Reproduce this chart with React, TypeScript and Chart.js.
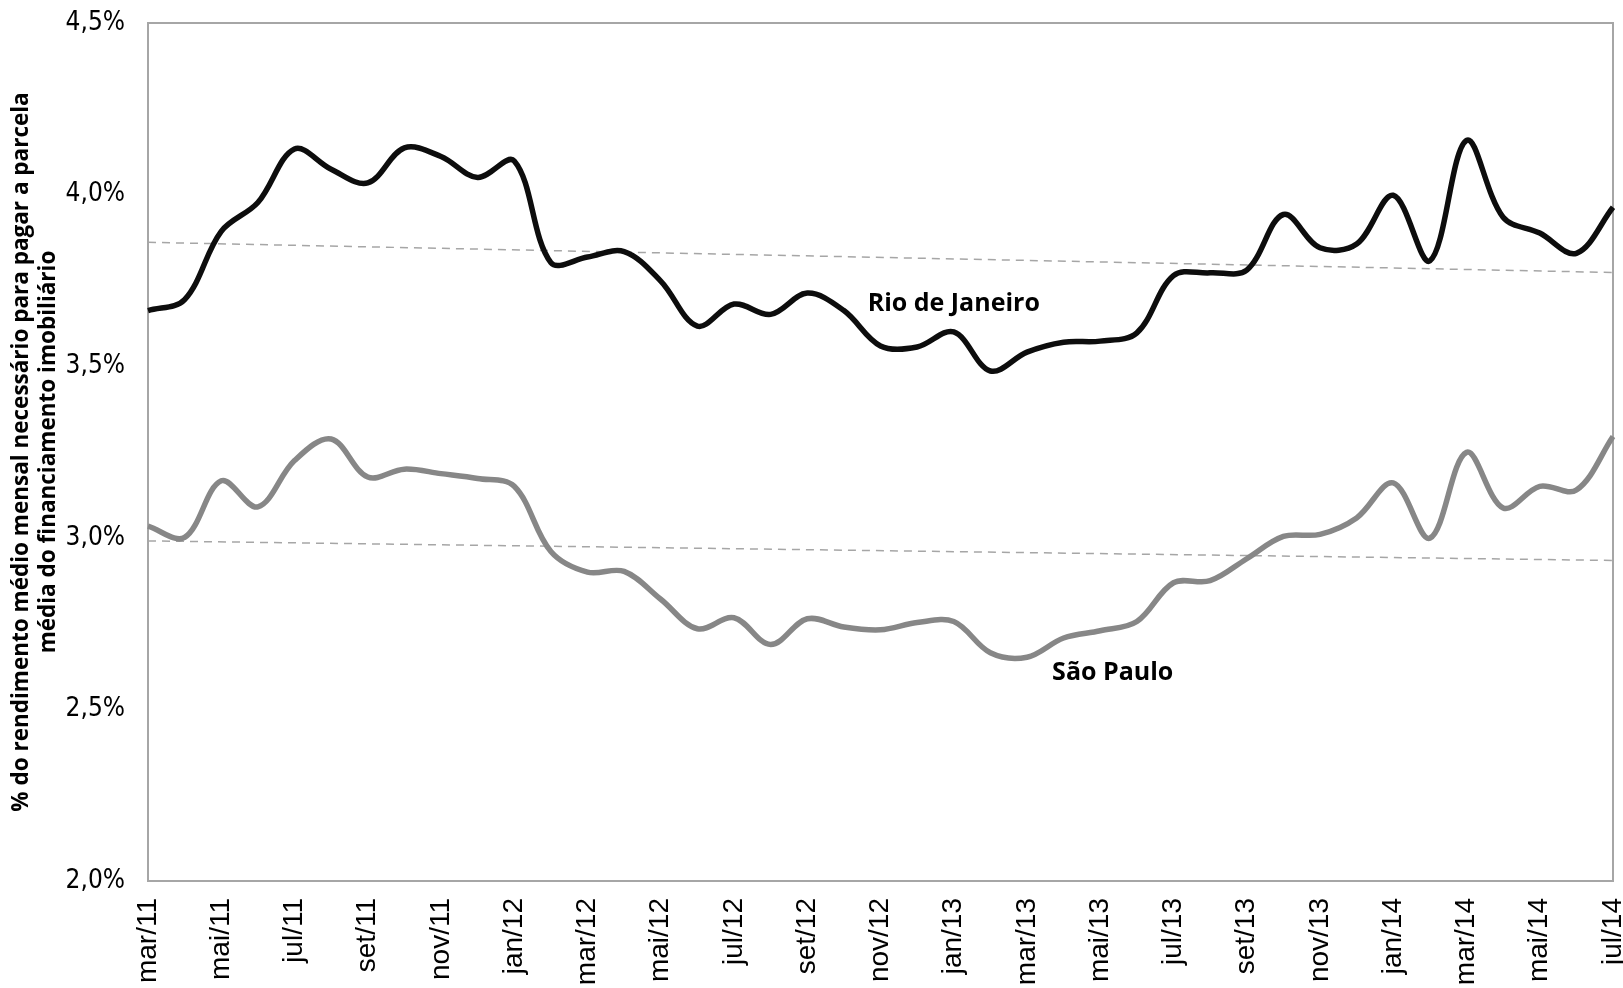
import React, { useEffect, useRef } from "react";
import { Chart, registerables } from "chart.js";

Chart.register(...registerables);

// Monthly categories, March 2011 to July 2014
const MONTHS = [
  "mar/11", "abr/11", "mai/11", "jun/11", "jul/11", "ago/11", "set/11", "out/11", "nov/11", "dez/11",
  "jan/12", "fev/12", "mar/12", "abr/12", "mai/12", "jun/12", "jul/12", "ago/12", "set/12", "out/12", "nov/12", "dez/12",
  "jan/13", "fev/13", "mar/13", "abr/13", "mai/13", "jun/13", "jul/13", "ago/13", "set/13", "out/13", "nov/13", "dez/13",
  "jan/14", "fev/14", "mar/14", "abr/14", "mai/14", "jun/14", "jul/14",
];

// % of average monthly income needed for the average mortgage instalment
const RIO = [
  3.662, 3.694, 3.893, 3.977, 4.133, 4.074, 4.034, 4.136, 4.111, 4.050,
  4.098, 3.802, 3.818, 3.834, 3.748, 3.617, 3.681, 3.651, 3.713, 3.662, 3.559, 3.556,
  3.600, 3.486, 3.541, 3.570, 3.573, 3.597, 3.764, 3.772, 3.780, 3.942, 3.845, 3.856,
  3.998, 3.807, 4.158, 3.934, 3.888, 3.829, 3.963,
];

const SAO_PAULO = [
  3.034, 3.001, 3.166, 3.090, 3.225, 3.288, 3.177, 3.200, 3.187, 3.173,
  3.150, 2.960, 2.900, 2.902, 2.821, 2.735, 2.767, 2.689, 2.764, 2.740, 2.732, 2.753,
  2.756, 2.665, 2.652, 2.708, 2.729, 2.756, 2.869, 2.875, 2.939, 3.004, 3.010, 3.058,
  3.160, 2.999, 3.249, 3.087, 3.150, 3.139, 3.295,
];

// Linear trend lines: value at the first and at the last month
const RIO_TREND = [3.861, 3.773];
const SAO_PAULO_TREND = [2.991, 2.934];

// Y axis ticks
const Y_TICKS = [2.0, 2.5, 3.0, 3.5, 4.0, 4.5];

const Y_TITLE = [
  "% do rendimento médio mensal necessário para pagar a parcela",
  "média do financiamento imobiliário",
];

// Series name labels: [month index, value]
const RIO_LABEL_POS = [22, 3.681];
const SAO_PAULO_LABEL_POS = [26.34, 2.605];

const endpoints = (pair: number[]) =>
  MONTHS.map((_, i) => (i === 0 ? pair[0] : i === MONTHS.length - 1 ? pair[1] : null));

const framePlugin = {
  id: "frame",
  beforeDatasetsDraw(chart: any) {
    const { ctx, chartArea } = chart;
    ctx.save();
    ctx.strokeStyle = "#a6a6a6";
    ctx.lineWidth = 2;
    ctx.strokeRect(chartArea.left, chartArea.top, chartArea.right - chartArea.left, chartArea.bottom - chartArea.top);
    ctx.restore();
  },
};

const seriesLabelPlugin = {
  id: "seriesLabels",
  afterDatasetsDraw(chart: any) {
    const { ctx, scales } = chart;
    const items: [string, number[]][] = [
      ["Rio de Janeiro", RIO_LABEL_POS],
      ["São Paulo", SAO_PAULO_LABEL_POS],
    ];
    ctx.save();
    ctx.fillStyle = "#000";
    ctx.font = 'bold 25px "Open Sans", sans-serif';
    ctx.textAlign = "center";
    ctx.textBaseline = "middle";
    for (const [text, [xi, v]] of items) {
      ctx.fillText(text, scales.x.getPixelForDecimal(xi / (MONTHS.length - 1)), scales.y.getPixelForValue(v));
    }
    ctx.restore();
  },
};

export default function App() {
  const canvasRef = useRef<HTMLCanvasElement | null>(null);

  useEffect(() => {
    const canvas = canvasRef.current;
    if (!canvas) return;
    const chart = new Chart(canvas, {
      type: "line",
      data: {
        labels: MONTHS,
        datasets: [
          {
            label: "Rio de Janeiro",
            data: RIO,
            borderColor: "#0d0d0d",
            borderWidth: 5.5,
            pointRadius: 0,
            tension: 0.35,
            order: 1,
          },
          {
            label: "São Paulo",
            data: SAO_PAULO,
            borderColor: "#878787",
            borderWidth: 5.5,
            pointRadius: 0,
            tension: 0.35,
            order: 1,
          },
          {
            label: "Tendência Rio de Janeiro",
            data: endpoints(RIO_TREND),
            borderColor: "#a6a6a6",
            borderWidth: 1.5,
            borderDash: [8, 6],
            pointRadius: 0,
            spanGaps: true,
            order: 2,
          },
          {
            label: "Tendência São Paulo",
            data: endpoints(SAO_PAULO_TREND),
            borderColor: "#a6a6a6",
            borderWidth: 1.5,
            borderDash: [8, 6],
            pointRadius: 0,
            spanGaps: true,
            order: 2,
          },
        ],
      },
      options: {
        responsive: false,
        animation: false,
        devicePixelRatio: 1,
        layout: { padding: { top: 23, right: 10, left: 0, bottom: 0 } },
        plugins: {
          legend: { display: false },
          tooltip: { enabled: false },
        },
        scales: {
          x: {
            type: "category",
            offset: false,
            grid: { display: false, drawTicks: false },
            border: { display: false },
            ticks: {
              autoSkip: false,
              minRotation: 90,
              maxRotation: 90,
              padding: 17,
              color: "#000",
              font: { family: '"Liberation Sans", Arial, sans-serif', size: 28 },
              callback: (_v: any, i: number) => (i % 2 === 0 ? MONTHS[i] : ""),
            },
            afterFit: (s: any) => {
              s.height = 107;
              s.paddingLeft = 0;
              s.paddingRight = 0;
              s.paddingTop = 0;
              s.paddingBottom = 0;
            },
          },
          y: {
            min: Y_TICKS[0],
            max: Y_TICKS[Y_TICKS.length - 1],
            afterBuildTicks: (s: any) => {
              s.ticks = Y_TICKS.map((v) => ({ value: v }));
            },
            grid: { display: false, drawTicks: false },
            border: { display: false },
            ticks: {
              padding: 23,
              color: "#000",
              font: { family: '"Liberation Sans Narrow", "DejaVu Sans Condensed", sans-serif', size: 26 },
              callback: (v: any) => Number(v).toFixed(1).replace(".", ",") + "%",
            },
            title: {
              display: true,
              text: Y_TITLE,
              color: "#000",
              font: { family: '"Open Sans", sans-serif', weight: "bold", size: 22.5, lineHeight: 27 / 22.5 },
              padding: { top: 8, bottom: 0 },
            },
            afterFit: (s: any) => {
              s.width = 148;
              s.paddingTop = 0;
              s.paddingBottom = 0;
            },
          },
        },
      },
      plugins: [framePlugin, seriesLabelPlugin],
    });
    return () => chart.destroy();
  }, []);

  return (
    <div style={{ position: "absolute", left: 0, top: 0, width: 1623, height: 988, background: "#fff", overflow: "hidden" }}>
      <canvas ref={canvasRef} width={1623} height={988} style={{ display: "block", width: 1623, height: 988 }} />
    </div>
  );
}
